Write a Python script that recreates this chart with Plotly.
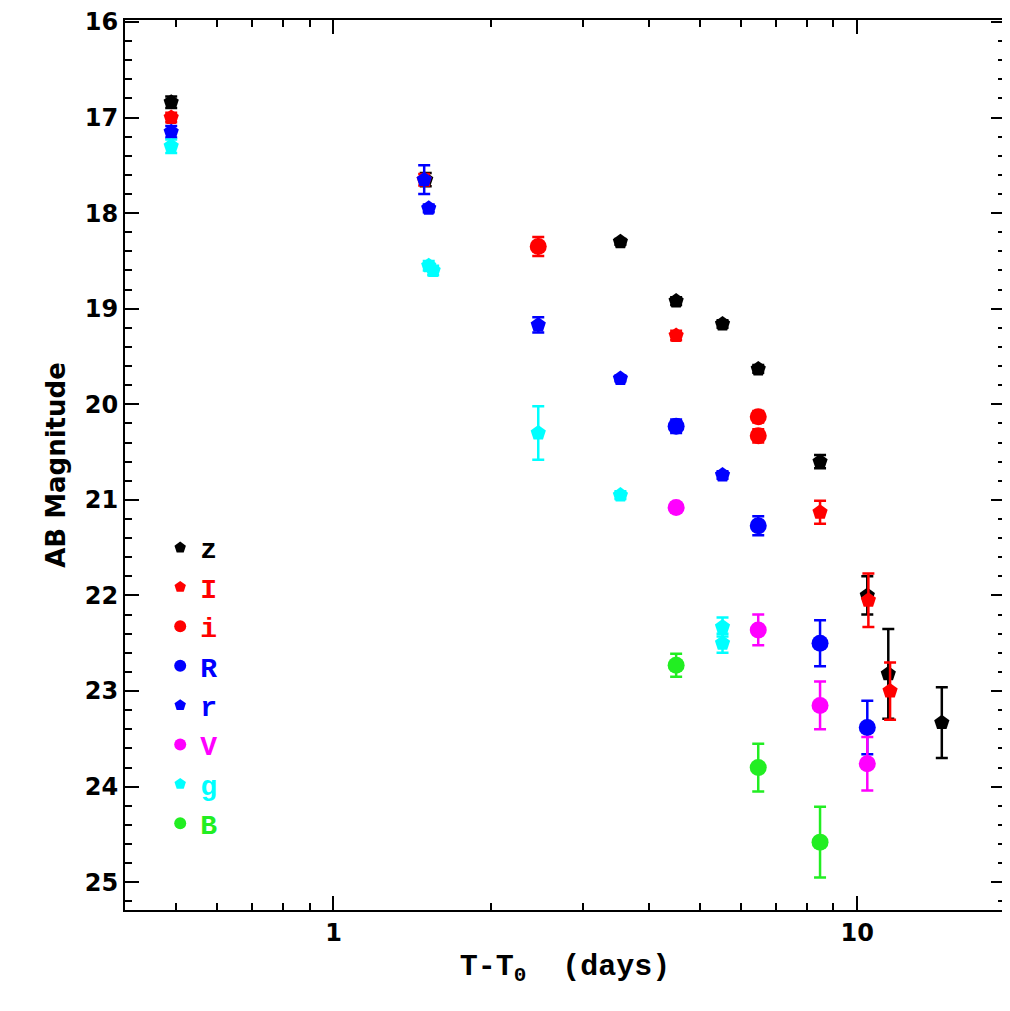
import plotly.graph_objects as go

# filter: (times, mags, errors)
z_t = [0.49, 1.50, 3.53, 4.51, 5.53, 6.47, 8.49, 10.45, 11.46, 14.5]
z_m = [16.84, 17.65, 18.30, 18.92, 19.16, 19.63, 20.60, 22.00, 22.82, 23.33]
z_e = [0.06, 0.07, 0.03, 0.04, 0.04, 0.04, 0.07, 0.20, 0.47, 0.37]

I_t = [0.49, 1.49, 4.51, 8.49, 10.50, 11.55]
I_m = [17.00, 17.65, 19.28, 21.13, 22.05, 23.00]
I_e = [0.05, 0.06, 0.05, 0.12, 0.28, 0.30]

i_t = [2.46, 6.47, 6.47]
i_m = [18.35, 20.13, 20.33]
i_e = [0.10, 0.06, 0.07]

R_t = [4.51, 6.47, 8.49, 10.45]
R_m = [20.23, 21.27, 22.50, 23.38]
R_e = [0.07, 0.10, 0.24, 0.28]

r_t = [0.49, 1.49, 1.52, 2.46, 3.53, 5.53]
r_m = [17.15, 17.65, 17.95, 19.17, 19.73, 20.74]
r_e = [0.06, 0.15, 0.04, 0.08, 0.03, 0.04]

V_t = [4.51, 6.47, 8.49, 10.45]
V_m = [21.08, 22.36, 23.15, 23.76]
V_e = [0.05, 0.16, 0.25, 0.28]

g_t = [0.49, 1.52, 1.55, 2.46, 3.53, 5.53, 5.53]
g_m = [17.30, 18.55, 18.60, 20.30, 20.95, 22.33, 22.50]
g_e = [0.07, 0.05, 0.05, 0.28, 0.04, 0.10, 0.10]

B_t = [4.51, 6.47, 8.49]
B_m = [22.73, 23.80, 24.58]
B_e = [0.12, 0.25, 0.37]

series = [
    ("z", z_t, z_m, z_e, "black", "pentagon"),
    ("I", I_t, I_m, I_e, "red", "pentagon"),
    ("i", i_t, i_m, i_e, "red", "circle"),
    ("R", R_t, R_m, R_e, "blue", "circle"),
    ("r", r_t, r_m, r_e, "blue", "pentagon"),
    ("V", V_t, V_m, V_e, "magenta", "circle"),
    ("g", g_t, g_m, g_e, "cyan", "pentagon"),
    ("B", B_t, B_m, B_e, "#22ee22", "circle"),
]

fig = go.Figure()
for name, t, m, e, col, sym in series:
    fig.add_trace(go.Scatter(
        x=t, y=m, mode="markers",
        name=f"<span style='color:{col}'><b>{name}</b></span>",
        marker=dict(color=col, symbol=sym, size=17 if sym == "circle" else 16),
        error_y=dict(type="data", array=e, color=col, thickness=2.5, width=6),
    ))

axis_common = dict(
    showline=True, linecolor="black", linewidth=2, mirror="ticks",
    ticks="inside", tickwidth=2, ticklen=14, tickcolor="black",
    showgrid=False, zeroline=False, automargin=False,
    tickfont=dict(family="DejaVu Sans", size=24, color="black"),
)

fig.update_xaxes(
    type="log", range=[-0.398, 1.282],
    tickvals=[1, 10], ticktext=["<b>1</b>", "<b>10</b>"],
    minor=dict(ticks="inside", ticklen=7, tickwidth=2, tickcolor="black",
               tickvals=[0.4, 0.5, 0.6, 0.7, 0.8, 0.9, 2, 3, 4, 5, 6, 7, 8, 9, 20]),
    title=dict(text="<b>T-T<sub>0</sub>  (days)</b>",
               font=dict(family="Liberation Mono", size=30, color="black"), standoff=8),
    **axis_common,
)
fig.update_yaxes(
    range=[25.29, 15.98], tickvals=list(range(16, 26)),
    ticktext=[f"<b>{v}</b>" for v in range(16, 26)],
    minor=dict(ticks="inside", ticklen=7, tickwidth=2, tickcolor="black", dtick=0.2, tick0=16),
    title=dict(text="<b>AB Magnitude</b>",
               font=dict(family="DejaVu Sans", size=26, color="black"), standoff=12),
    **axis_common,
)

fig.update_layout(
    width=1002, height=1003,
    margin=dict(l=117, r=5, t=12, b=101),
    plot_bgcolor="white", paper_bgcolor="white",
    showlegend=True,
    legend=dict(x=0.04, y=0.435, xanchor="left", yanchor="top",
                bgcolor="rgba(0,0,0,0)", tracegroupgap=0, itemsizing="constant",
                font=dict(family="Liberation Mono", size=28)),
)

fig.write_html("out.html")
